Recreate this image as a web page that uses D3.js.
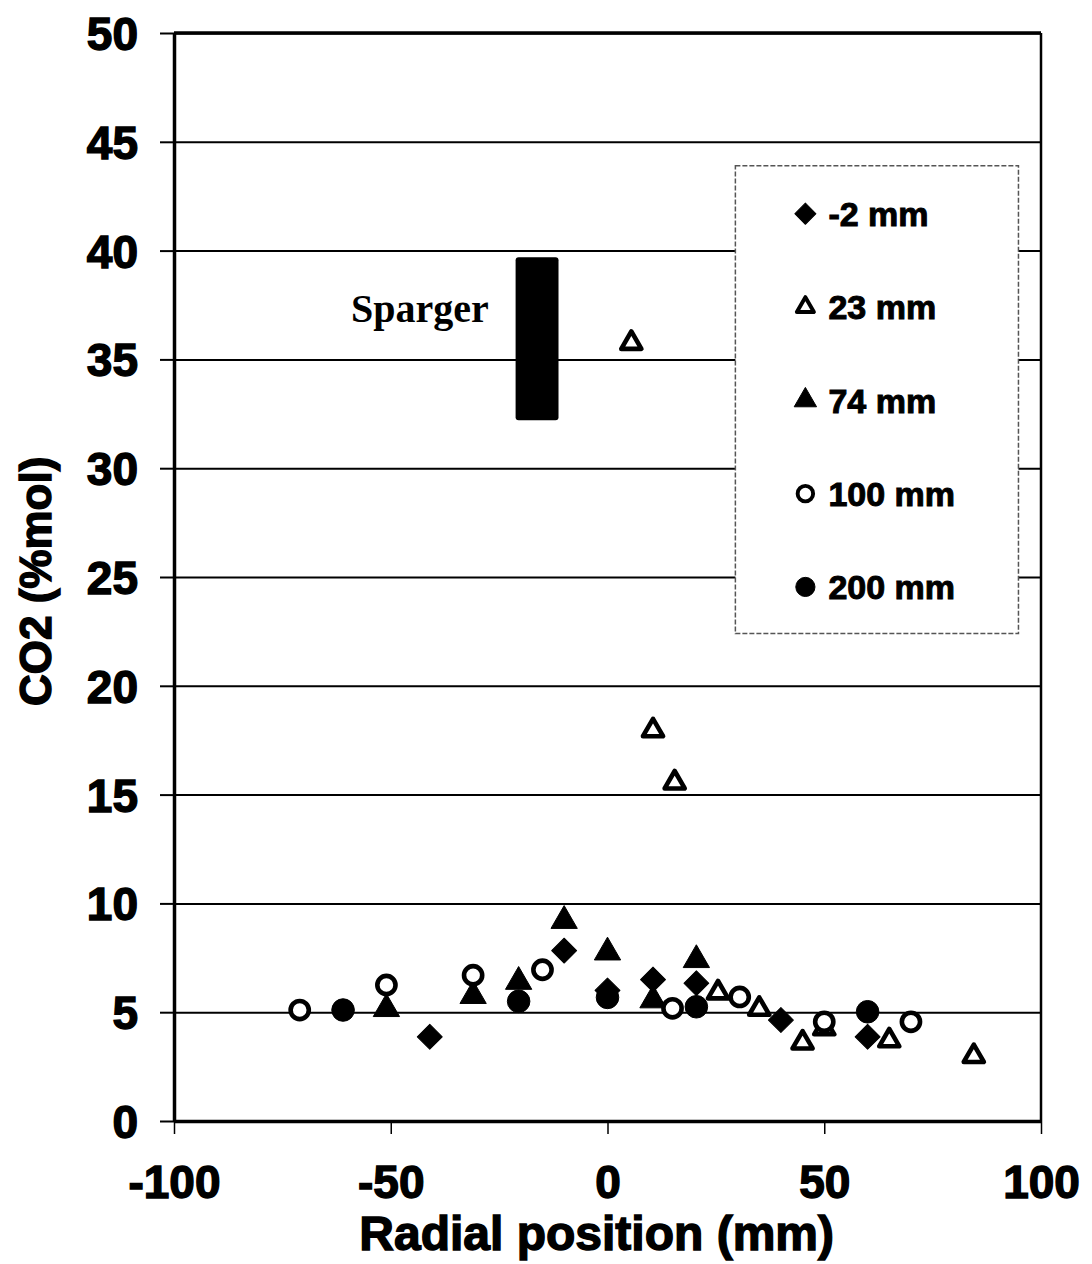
<!DOCTYPE html>
<html>
<head>
<meta charset="utf-8">
<script src="https://cdn.jsdelivr.net/npm/d3@7"></script>
<style>
  body { margin: 0; background: #fff; }
  svg { display: block; }
  .tick-label { font-family: 'Liberation Sans', Arial, sans-serif; font-weight: bold; fill: #000; stroke: #000; stroke-width: 1.4px; }
  .axis-title { font-family: 'Liberation Sans', Arial, sans-serif; font-weight: bold; fill: #000; stroke: #000; stroke-width: 1.4px; }
  .legend-label { font-family: 'Liberation Sans', Arial, sans-serif; font-weight: bold; font-size: 34px; fill: #000; stroke: #000; stroke-width: 1px; }
</style>
</head>
<body>
<div id="chart"></div>
<script>
// Axis ticks
const xTicks = [-100, -50, 0, 50, 100];
const yTicks = [0, 5, 10, 15, 20, 25, 30, 35, 40, 45, 50];

// Series: distance above sparger -> [radial position (mm), CO2 (%mol)]
const seriesNames = ['-2 mm', '23 mm', '74 mm', '100 mm', '200 mm'];
const minus2mm = [[-41, 3.87], [-10, 7.83], [0, 6.0], [10.5, 6.5], [20.5, 6.33], [40, 4.64], [60, 3.87]];
const mm23 = [[5.5, 35.75], [10.5, 17.95], [15.5, 15.55], [25.5, 5.9], [35, 5.15], [45, 3.6], [50, 4.25], [65, 3.7], [84.5, 2.98]];
const mm74 = [[-51, 5.15], [-31, 5.75], [-20.5, 6.4], [-10, 9.2], [0, 7.75], [10.5, 5.55], [20.5, 7.4]];
const mm100 = [[-71, 5.1], [-51, 6.25], [-31, 6.7], [-15, 6.95], [15, 5.18], [30.5, 5.7], [50, 4.56], [70, 4.56]];
const mm200 = [[-61, 5.1], [-20.5, 5.5], [0, 5.68], [20.5, 5.25], [60, 5.02]];

// Sparger bar (data units)
const spargerX = [-21.2, -11.3];
const spargerY = [32.2, 39.7];

const series = [
    { name: seriesNames[0], data: minus2mm, shape: 'diamond', filled: true },
    { name: seriesNames[1], data: mm23, shape: 'triangle', filled: false },
    { name: seriesNames[2], data: mm74, shape: 'triangle', filled: true },
    { name: seriesNames[3], data: mm100, shape: 'circle', filled: false },
    { name: seriesNames[4], data: mm200, shape: 'circle', filled: true }
];

const W = 1092, H = 1264;
const margin = { top: 33, right: 51, bottom: 143, left: 174 };
const width = W - margin.left - margin.right;
const height = H - margin.top - margin.bottom;

const svg = d3.select('#chart').append('svg')
    .attr('width', W)
    .attr('height', H);

const g = svg.append('g')
    .attr('transform', `translate(${margin.left},${margin.top})`);

const x = d3.scaleLinear().domain([-100, 100]).range([0, width]);
const y = d3.scaleLinear().domain([0, 50]).range([height, 0]);

// Gridlines
g.append('g')
    .attr('class', 'grid')
    .call(d3.axisLeft(y).tickValues(yTicks).tickSize(-width).tickFormat(''))
    .call(s => s.select('.domain').remove())
    .call(s => s.selectAll('line').attr('stroke', '#000').attr('stroke-width', 2));

// Frame: right and top
g.append('line')
    .attr('x1', width).attr('x2', width)
    .attr('y1', 0).attr('y2', height)
    .attr('stroke', '#000').attr('stroke-width', 2.5);
g.append('line')
    .attr('x1', 0).attr('x2', width)
    .attr('y1', 0).attr('y2', 0)
    .attr('stroke', '#000').attr('stroke-width', 3.5);

// Y axis
const yAxis = g.append('g')
    .call(d3.axisLeft(y).tickValues(yTicks).tickSize(14).tickSizeOuter(0).tickPadding(22)
        .tickFormat(d => String(d)));
yAxis.select('.domain').attr('stroke', '#000').attr('stroke-width', 3.5);
yAxis.selectAll('line').attr('stroke', '#000').attr('stroke-width', 2);
yAxis.selectAll('text')
    .attr('class', 'tick-label')
    .style('font-size', '46px')
    .attr('dy', '0.36em');

// X axis
const xAxis = g.append('g')
    .attr('transform', `translate(0,${height})`)
    .call(d3.axisBottom(x).tickValues(xTicks).tickSize(13).tickSizeOuter(0).tickPadding(31)
        .tickFormat(d => String(d)));
xAxis.select('.domain').attr('stroke', '#000').attr('stroke-width', 3.5);
xAxis.selectAll('line').attr('stroke', '#000').attr('stroke-width', 1.5);
xAxis.selectAll('text')
    .attr('class', 'tick-label')
    .style('font-size', '46px');

// Axis titles
g.append('text')
    .attr('class', 'axis-title')
    .attr('x', x(-2.5))
    .attr('y', height + 129)
    .attr('text-anchor', 'middle')
    .style('font-size', '48px')
    .text('Radial position (mm)');

g.append('text')
    .attr('class', 'axis-title')
    .attr('transform', 'rotate(-90)')
    .attr('x', -(y(24.8)))
    .attr('y', -123)
    .attr('text-anchor', 'middle')
    .style('font-size', '44px')
    .text('CO2 (%mol)');

// Sparger annotation
g.append('rect')
    .attr('x', x(spargerX[0]))
    .attr('y', y(spargerY[1]))
    .attr('width', x(spargerX[1]) - x(spargerX[0]))
    .attr('height', y(spargerY[0]) - y(spargerY[1]))
    .attr('rx', 3)
    .attr('fill', '#000');

g.append('text')
    .attr('x', x(-27.4))
    .attr('y', y(36.7))
    .attr('text-anchor', 'end')
    .style('font-family', "'Liberation Serif', 'Times New Roman', serif")
    .style('font-weight', 'bold')
    .style('font-size', '40px')
    .text('Sparger');

// Marker paths
function markerPath(shape, k) {
    if (shape === 'diamond') return d3.symbol(d3.symbolSquare, 310 * k * k)();
    if (shape === 'triangle') return d3.symbol(d3.symbolTriangle, 300 * k * k)();
    return d3.symbol(d3.symbolCircle, 400 * k * k)();
}
function openPath(shape, k) {
    if (shape === 'triangle') return d3.symbol(d3.symbolTriangle, 175 * k * k)();
    return d3.symbol(d3.symbolCircle, 260 * k * k)();
}

function drawMarker(sel, s, k) {
    sel.append('path')
        .attr('d', s.filled ? markerPath(s.shape, k) : openPath(s.shape, k))
        .attr('transform', s.shape === 'diamond' ? 'rotate(45)' : null)
        .attr('fill', s.filled ? '#000' : '#fff')
        .attr('stroke', '#000')
        .attr('stroke-width', s.filled ? 1 : 4.6 * k)
        .attr('stroke-linejoin', 'round');
}

// Points
series.forEach(s => {
    g.append('g').selectAll('g')
        .data(s.data)
        .join('g')
        .attr('transform', d => `translate(${x(d[0])},${y(d[1])})`)
        .each(function () { drawMarker(d3.select(this), s, 1); });
});

// Legend
const legend = g.append('g')
    .attr('transform', `translate(${x(29.5)},${y(43.9)})`);

legend.append('rect')
    .attr('width', x(94.8) - x(29.5))
    .attr('height', y(22.4) - y(43.9))
    .attr('fill', '#fff')
    .attr('stroke', '#555')
    .attr('stroke-width', 1.5)
    .attr('stroke-dasharray', '5,2');

series.forEach((s, i) => {
    const row = legend.append('g')
        .attr('transform', `translate(70,${48 + i * 93.3})`);
    drawMarker(row, s, 0.85);
    row.append('text')
        .attr('class', 'legend-label')
        .attr('x', 23)
        .attr('dy', '0.36em')
        .text(s.name);
});
</script>
</body>
</html>
